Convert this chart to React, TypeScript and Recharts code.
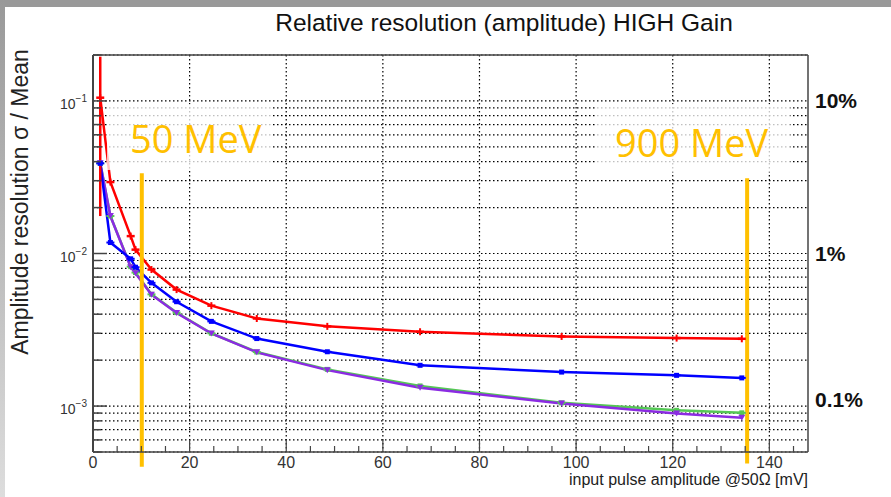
import { LineChart, Line, XAxis, YAxis, CartesianGrid, ReferenceLine, ErrorBar } from 'recharts';

// input pulse amplitude @50Ω [mV]
const amplitude = [1.5, 3.6, 7.8, 8.8, 12.1, 17.3, 24.5, 33.9, 48.5, 67.7, 97.0, 120.8, 134.3];

// relative amplitude resolution (sigma / mean), one list per channel
const redRes = [0.105, 0.0294, 0.013, 0.0106, 0.00785, 0.0058, 0.00455, 0.00375, 0.00333, 0.00307, 0.00286, 0.00279, 0.00276];
const blueRes = [0.039, 0.0118, 0.00923, 0.00813, 0.00642, 0.00483, 0.00359, 0.00277, 0.00227, 0.00185, 0.00167, 0.00159, 0.00153];
const greenRes = [0.039, 0.0176, 0.0082, 0.0075, 0.0054, 0.0041, 0.003, 0.00226, 0.00174, 0.001355, 0.00105, 0.000938, 0.000903];
const purpleRes = [0.039, 0.0176, 0.00813, 0.00742, 0.00537, 0.00407, 0.00299, 0.00225, 0.00172, 0.00132, 0.00104, 0.000895, 0.000838];

// error band of the first red point (low, high)
const redFirstErr = [0.0176, 0.195];

// axis ticks
const ampTicks = [0, 5, 10, 15, 20, 25, 30, 35, 40, 45, 50, 55, 60, 65, 70, 75, 80, 85, 90, 95, 100, 105, 110, 115, 120, 125, 130, 135, 140, 145];
const ampGrid = [20, 40, 60, 80, 100, 120, 140];
const resTicks = [
  0.0005, 0.0006, 0.0007, 0.0008, 0.0009,
  0.001, 0.002, 0.003, 0.004, 0.005, 0.006, 0.007, 0.008, 0.009,
  0.01, 0.02, 0.03, 0.04, 0.05, 0.06, 0.07, 0.08, 0.09,
  0.1, 0.2,
];
const decadeTicks = [0.001, 0.01, 0.1];
const pctTicks = [0.001, 0.01, 0.1];

// beam energy markers
const energyNames = ['50 MeV', '900 MeV'];
const energyAmps = [10.1, 135.4];
const energyTop = [0.0336, 0.0311];
const energyBottom = [0.0004, 0.00042];

const rows = amplitude.map((amp, i) => ({
  amp,
  red: redRes[i],
  blue: blueRes[i],
  green: greenRes[i],
  purple: purpleRes[i],
  redErr: i === 0 ? [redRes[0] - redFirstErr[0], redFirstErr[1] - redRes[0]] : [0, 0],
}));

const FONT = '"Liberation Sans", Arial, sans-serif';
const ORANGE = '#FFC000';
const FRAME = '#444';

const LogTick = (props: any) => {
  const { x, y, payload } = props;
  const major = decadeTicks.includes(payload.value);
  const exp = Math.round(Math.log10(payload.value));
  return (
    <g>
      <line x1={x} x2={x + (major ? 14 : 8)} y1={y} y2={y} stroke={FRAME} strokeWidth={1.5} />
      {major && (
        <text x={x - 6} y={y + 8} textAnchor="end" fontFamily={FONT} fontSize={14} fill="#333">
          10
          <tspan dy={-7} fontSize={10}>{`\u2212${-exp}`}</tspan>
        </text>
      )}
    </g>
  );
};

const PctTick = (props: any) => {
  const { x, y, payload } = props;
  const v = payload.value;
  const label = `${parseFloat((v * 100).toPrecision(3))}%`;
  const dy = v < 0.005 ? 1 : 7;
  return (
    <text x={x + 7} y={y + dy} fontFamily={FONT} fontSize={21} fontWeight="bold" fill="#111">
      {label}
    </text>
  );
};

const AmpTick = (props: any) => {
  const { x, y, payload } = props;
  const major = payload.value % 20 === 0;
  return (
    <g>
      <line x1={x} x2={x} y1={y} y2={y - (major ? 12 : 6)} stroke={FRAME} strokeWidth={1.2} />
      {major && (
        <text x={x} y={y + 16} textAnchor="middle" fontFamily={FONT} fontSize={16} fill="#333">
          {payload.value}
        </text>
      )}
    </g>
  );
};

const plusDot = (color: string) => (p: any) => (
  <g key={`p-${color}-${p.index}`}>
    <line x1={p.cx - 4} x2={p.cx + 4} y1={p.cy} y2={p.cy} stroke={color} strokeWidth={2.5} />
    <line x1={p.cx} x2={p.cx} y1={p.cy - 3.5} y2={p.cy + 3.5} stroke={color} strokeWidth={2} />
  </g>
);

const squareDot = (color: string) => (p: any) => (
  <g key={`s-${color}-${p.index}`}>
    <rect x={p.cx - 2.5} y={p.cy - 2.5} width={5} height={5} fill={color} />
    <line x1={p.cx - 4} x2={p.cx + 4} y1={p.cy} y2={p.cy} stroke={color} strokeWidth={2} />
  </g>
);

const triangleDot = (color: string) => (p: any) => (
  <path
    key={`t-${color}-${p.index}`}
    d={`M${p.cx - 3.5},${p.cy - 3} L${p.cx + 3.5},${p.cy - 3} L${p.cx},${p.cy + 3} Z`}
    fill={color}
  />
);

export default function App() {
  return (
    <div style={{ position: 'relative', width: 891, height: 497, background: '#fff', overflow: 'hidden' }}>
      <style>{'body{margin:0}'}</style>
      <div style={{ position: 'absolute', left: 0, top: 0, width: 891, height: 7, background: '#999' }} />
      <div
        style={{
          position: 'absolute', left: 0, top: 0, width: 5, height: 497,
          background: 'linear-gradient(to bottom, #999, #ddd)',
        }}
      />
      {/* axes are 1px thick so Recharts still renders them */}
      <LineChart width={891} height={497} data={rows} margin={{ top: 54, right: 82, bottom: 44, left: 92 }}>
        <CartesianGrid
          yAxisId="res"
          stroke="#000"
          strokeWidth={1.2}
          strokeDasharray="1.5 2.5"
          horizontalValues={resTicks}
          verticalValues={ampGrid}
        />
        <XAxis
          dataKey="amp"
          type="number"
          domain={[0, 148]}
          ticks={ampTicks}
          interval={0}
          height={1}
          tickSize={0}
          tickMargin={0}
          tickLine={false}
          tick={<AmpTick />}
          axisLine={{ stroke: FRAME, strokeWidth: 1.5 }}
          allowDataOverflow
        />
        <XAxis
          xAxisId="top"
          orientation="top"
          dataKey="amp"
          type="number"
          domain={[0, 148]}
          height={1}
          tick={false}
          tickLine={false}
          axisLine={{ stroke: FRAME, strokeWidth: 1.5 }}
          allowDataOverflow
        />
        <YAxis
          yAxisId="res"
          scale="log"
          type="number"
          domain={[0.0005, 0.2]}
          ticks={resTicks}
          interval={0}
          width={1}
          tickSize={0}
          tickMargin={0}
          tickLine={false}
          tick={<LogTick />}
          axisLine={{ stroke: FRAME, strokeWidth: 2 }}
          allowDataOverflow
        />
        <YAxis
          yAxisId="pct"
          orientation="right"
          scale="log"
          type="number"
          domain={[0.0005, 0.2]}
          ticks={pctTicks}
          interval={0}
          width={1}
          tickSize={0}
          tickMargin={0}
          tickLine={false}
          tick={<PctTick />}
          axisLine={{ stroke: FRAME, strokeWidth: 1.5 }}
          allowDataOverflow
        />
        <Line yAxisId="res" dataKey="green" stroke="#55c855" strokeWidth={2.5} type="linear"
          dot={squareDot('#55c855')} isAnimationActive={false} />
        <Line yAxisId="res" dataKey="purple" stroke="#8b2be2" strokeWidth={2.5} type="linear"
          dot={triangleDot('#8b2be2')} isAnimationActive={false} />
        <Line yAxisId="res" dataKey="blue" stroke="#0000ff" strokeWidth={2.5} type="linear"
          dot={squareDot('#0000ff')} isAnimationActive={false} />
        <Line yAxisId="res" dataKey="red" stroke="#ff0000" strokeWidth={2.5} type="linear"
          dot={plusDot('#ff0000')} isAnimationActive={false}>
          <ErrorBar dataKey="redErr" direction="y" width={0} stroke="#ff0000" strokeWidth={2.5} />
        </Line>
        {energyAmps.map((amp, i) => (
          <ReferenceLine
            key={energyNames[i]}
            yAxisId="res"
            ifOverflow="visible"
            segment={[{ x: amp, y: energyTop[i] }, { x: amp, y: energyBottom[i] }]}
            stroke={ORANGE}
            strokeWidth={4}
          />
        ))}
      </LineChart>
      <svg
        width={891}
        height={497}
        style={{ position: 'absolute', left: 0, top: 0, pointerEvents: 'none' }}
      >
        <text x={504} y={31} textAnchor="middle" fontFamily={FONT} fontSize={24.5} fill="#111">
          Relative resolution (amplitude) HIGH Gain
        </text>
        <text transform="translate(28,202) rotate(-90)" textAnchor="middle" fontFamily={FONT} fontSize={23} fill="#222">
          Amplitude resolution σ / Mean
        </text>
        <text x={808} y={485} textAnchor="end" fontFamily={FONT} fontSize={16} fill="#222">
          input pulse amplitude @50Ω [mV]
        </text>
        <rect x={107} y={104} width={165} height={66} fill="#fff" fillOpacity={0.75} />
        <rect x={595} y={104} width={195} height={68} fill="#fff" fillOpacity={0.75} />
        <text x={130} y={153} fontFamily='"Open Sans", sans-serif' fontSize={38} fill={ORANGE}>
          {energyNames[0]}
        </text>
        <text x={615} y={157} fontFamily='"Open Sans", sans-serif' fontSize={38} fill={ORANGE}>
          {energyNames[1]}
        </text>
      </svg>
    </div>
  );
}
